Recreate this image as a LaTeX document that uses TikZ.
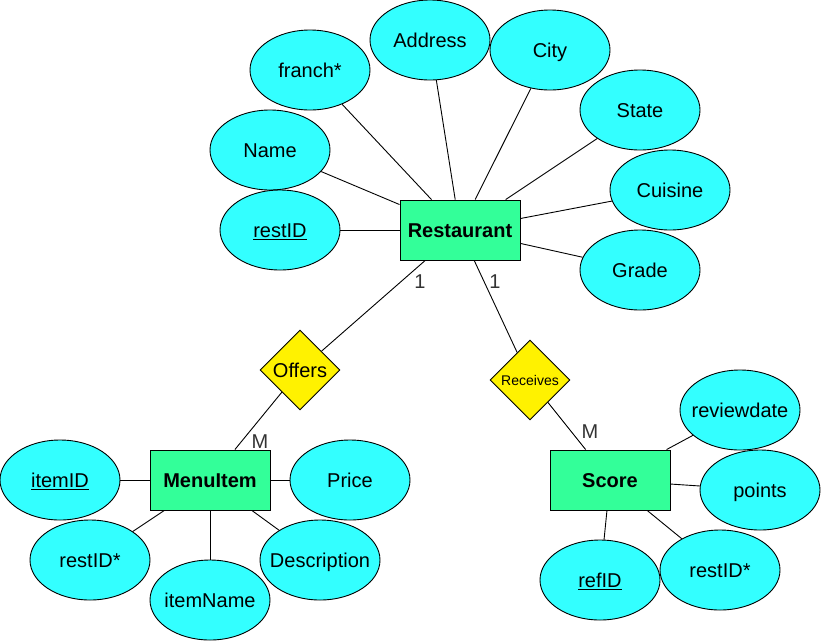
\documentclass[tikz,border=0pt]{standalone}
\usepackage{fontspec}
\setmainfont{Liberation Sans}
\usetikzlibrary{shapes.geometric}

\definecolor{attrcyan}{HTML}{33FFFF}
\definecolor{entgreen}{HTML}{33FF99}
\newcommand{\attname}[1]{\makebox[0pt]{#1}}

\tikzset{
  attr/.style={draw, ellipse, fill=attrcyan, minimum width=120, minimum height=80, inner sep=0pt, text height=14.5pt, text depth=0pt},
  ent/.style={draw, rectangle, fill=entgreen, minimum width=120, minimum height=60, inner sep=0pt, text height=14.5pt, text depth=0pt, font=\fontsize{20}{24}\selectfont\bfseries},
  rel/.style={draw, diamond, fill=yellow, shape aspect=1, minimum width=80, minimum height=80, inner sep=0pt, text height=14.5pt, text depth=0pt},
  card/.style={inner sep=0pt, text height=14.5pt, text depth=0pt, text=black!80}
}

\begin{document}
\begin{tikzpicture}[x=1pt, y=-1pt, line width=0.9pt, font=\fontsize{20}{24}\selectfont]

	\useasboundingbox (0,0) rectangle (821,641);

	\node[ent] (rest) at (460,230) {Restaurant};
	\node[ent] (menu) at (210,480) {MenuItem};
	\node[ent] (score) at (610,480) {Score};

	\node[rel] (offers) at (300,370) {Offers};
	\node[rel, text height=10pt, font=\fontsize{14}{16}\selectfont] (receives) at (530,380) {Receives};

	\node[attr] (rfranch) at (310,70) {\attname{franch*}};
	\node[attr] (raddr) at (430,40) {\attname{Address}};
	\node[attr] (rcity) at (550,50) {\attname{City}};
	\node[attr] (rstate) at (640,110) {\attname{State}};
	\node[attr] (rcuisine) at (670,190) {\attname{Cuisine}};
	\node[attr] (rgrade) at (640,270) {\attname{Grade}};
	\node[attr] (rname) at (270,150) {\attname{Name}};
	\node[attr] (rid) at (280,230) {\attname{\underline{restID}}};

	\node[attr] (mid) at (60,480) {\attname{\underline{itemID}}};
	\node[attr] (mprice) at (350,480) {\attname{Price}};
	\node[attr] (mrest) at (90,560) {\attname{restID*}};
	\node[attr] (mname) at (210,600) {\attname{itemName}};
	\node[attr] (mdesc) at (320,560) {\attname{Description}};

	\node[attr] (sdate) at (740,410) {\attname{reviewdate}};
	\node[attr] (spoints) at (760,490) {\attname{points}};
	\node[attr] (srest) at (720,570) {\attname{restID*}};
	\node[attr] (sref) at (600,580) {\attname{\underline{refID}}};

	\draw (rest) -- (rfranch); \draw (rest) -- (raddr); \draw (rest) -- (rcity);
	\draw (rest) -- (rstate); \draw (rest) -- (rcuisine); \draw (rest) -- (rgrade);
	\draw (rest) -- (rname); \draw (rest) -- (rid);

	\draw (menu) -- (mid); \draw (menu) -- (mprice); \draw (menu) -- (mrest);
	\draw (menu) -- (mname); \draw (menu) -- (mdesc);

	\draw (score) -- (sdate); \draw (score) -- (spoints); \draw (score) -- (srest);
	\draw (score) -- (sref);

	\draw (rest) -- (offers); \draw (offers) -- (menu);
	\draw (rest) -- (receives); \draw (receives) -- (score);

	\node[card] (c1) at (420,281) {1};
	\node[card] (c2) at (495,281) {1};
	\node[card] (m1) at (260,441) {M};
	\node[card] (m2) at (590,431) {M};
\end{tikzpicture}
\end{document}
